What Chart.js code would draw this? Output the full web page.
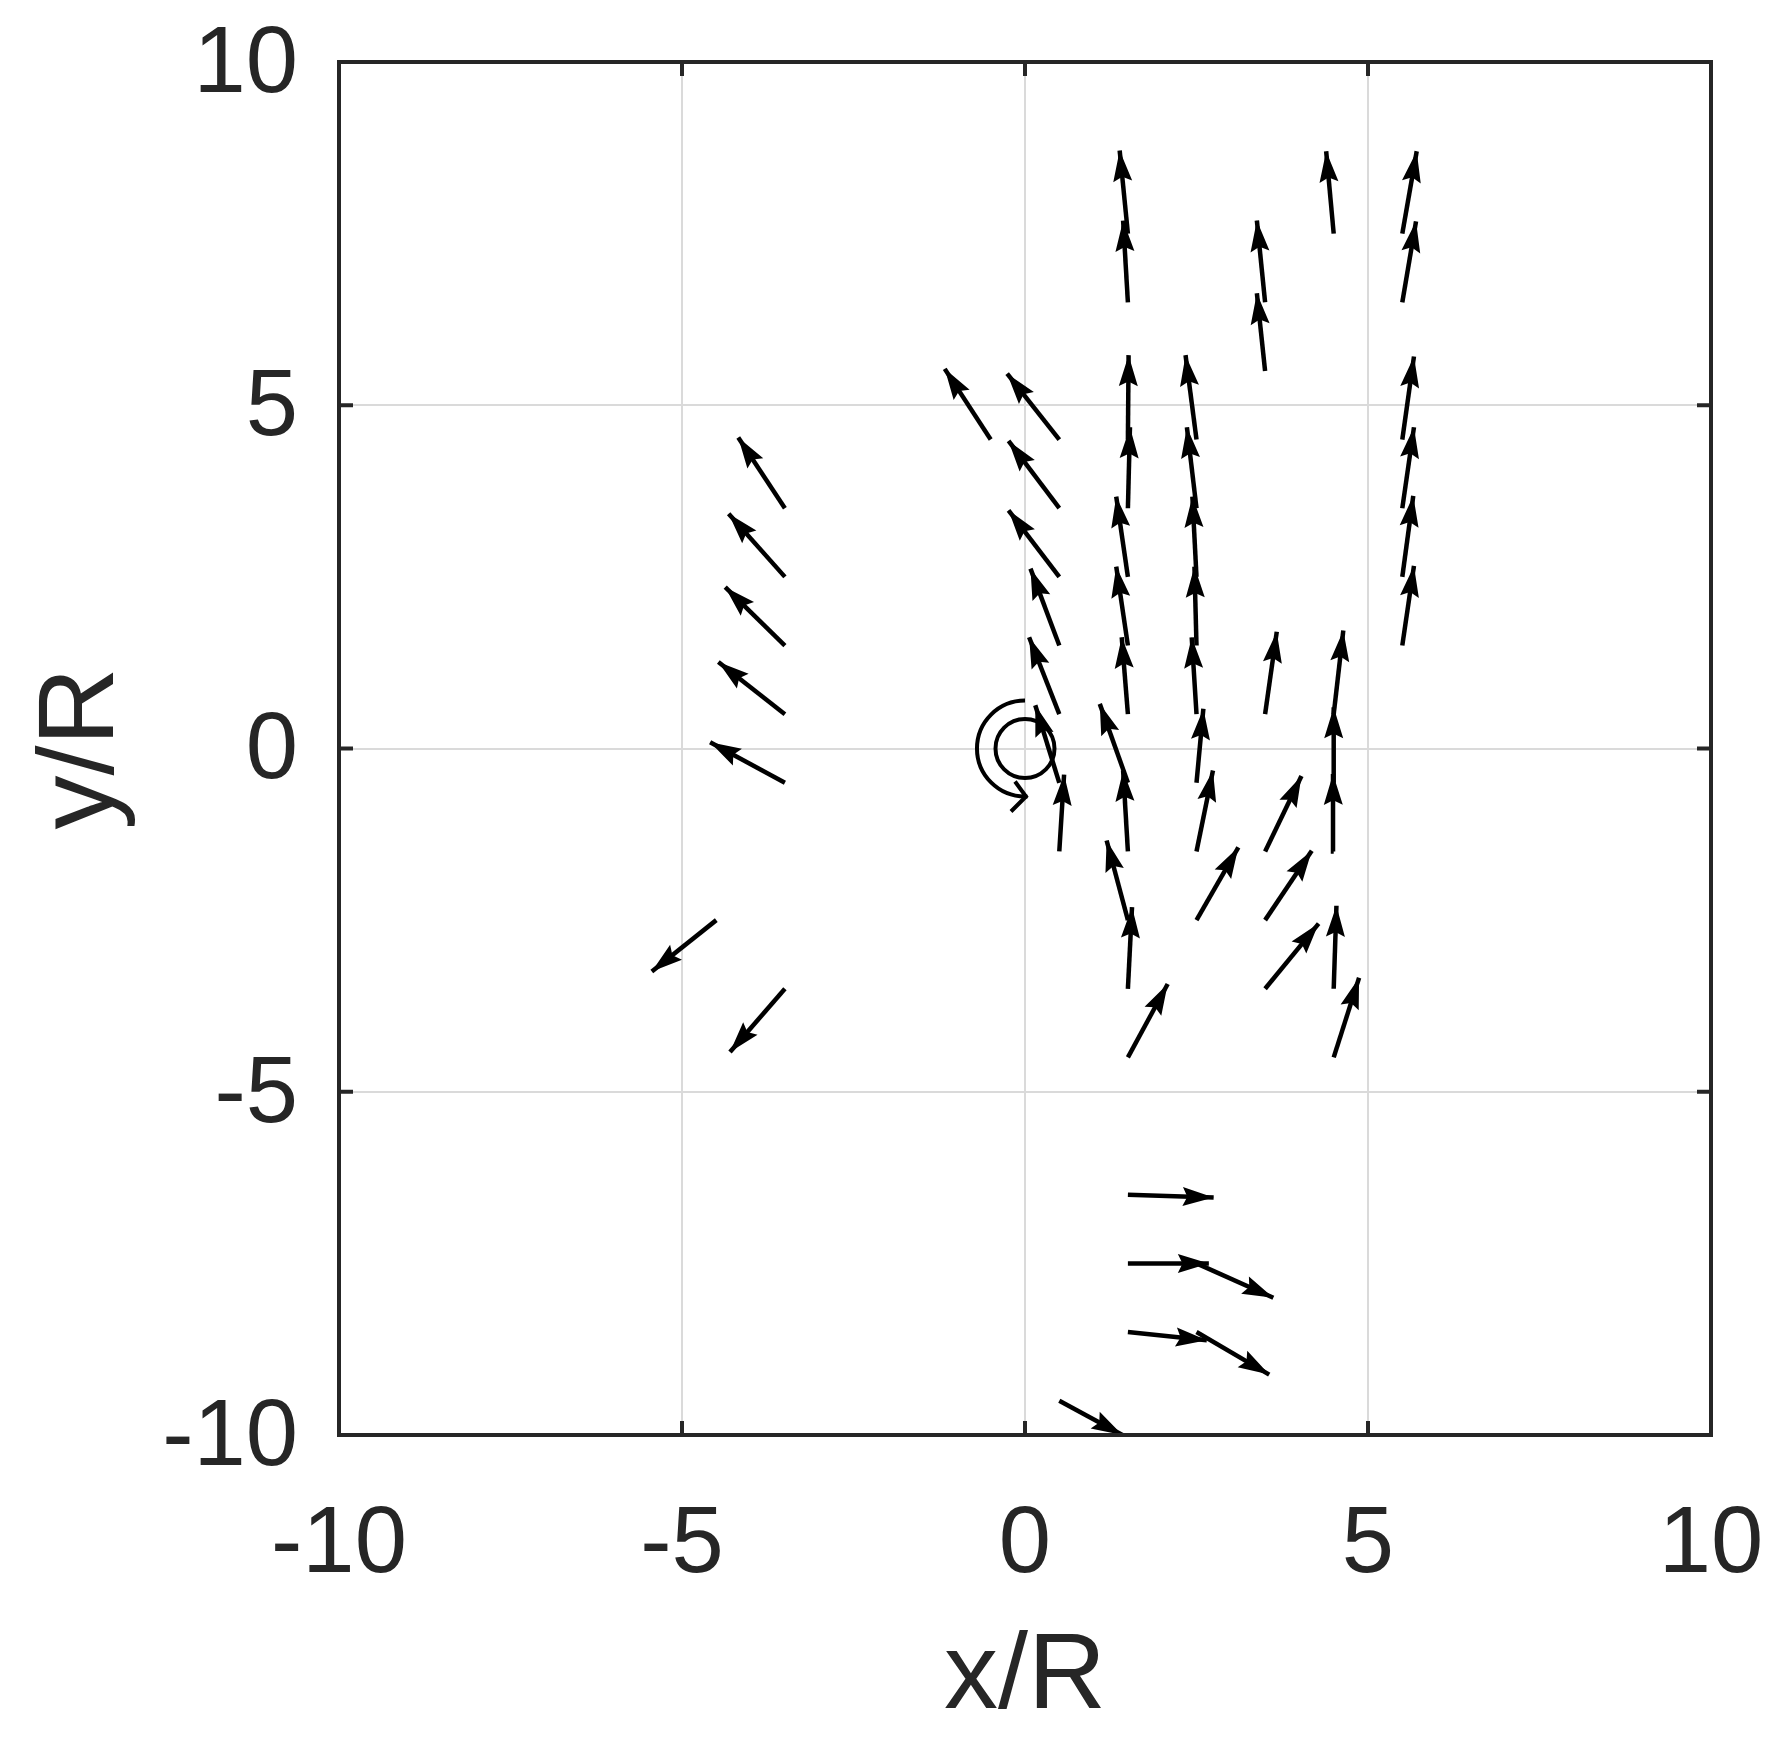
<!DOCTYPE html>
<html>
<head>
<meta charset="utf-8">
<script src="https://cdn.jsdelivr.net/npm/chart.js@4.4.0/dist/chart.umd.min.js"></script>
<style>
  html, body { margin: 0; padding: 0; background: #fff; }
  #wrap { width: 1783px; height: 1743px; }
</style>
</head>
<body>
<div id="wrap"><canvas id="quiverChart"></canvas></div>
<script>
// arrow tails (x/R, y/R) and components
const quiverX = [-3.5, -3.5, -3.5, -3.5, -3.5, -4.5, -3.5,
  -0.5, 0.5, 0.5, 0.5, 0.5, 0.5, 0.5, 0.5, 0.5,
  1.5, 1.5, 1.5, 1.5, 1.5, 1.5, 1.5, 1.5, 1.5, 1.5, 1.5, 1.5, 1.5, 1.5, 1.5,
  2.5, 2.5, 2.5, 2.5, 2.5, 2.5, 2.5, 2.5, 2.5, 2.5,
  3.5, 3.5, 3.5, 3.5, 3.5, 3.5,
  4.5, 4.5, 4.5, 4.5, 4.5, 4.5,
  5.5, 5.5, 5.5, 5.5, 5.5, 5.5];
const quiverY = [3.5, 2.5, 1.5, 0.5, -0.5, -2.5, -3.5,
  4.5, 4.5, 3.5, 2.5, 1.5, 0.5, -0.5, -1.5, -9.5,
  7.5, 6.5, 4.5, 3.5, 2.5, 1.5, 0.5, -0.5, -1.5, -2.5, -3.5, -4.5, -6.5, -7.5, -8.5,
  4.5, 3.5, 2.5, 1.5, 0.5, -0.5, -1.5, -2.5, -7.5, -8.5,
  6.5, 5.5, 0.5, -1.5, -2.5, -3.5,
  7.5, 0.5, -0.5, -1.5, -3.5, -4.5,
  7.5, 6.5, 4.5, 3.5, 2.5, 1.5];
const quiverU = [-0.68, -0.82, -0.87, -0.97, -1.09, -0.94, -0.80,
  -0.67, -0.76, -0.74, -0.74, -0.42, -0.44, -0.35, 0.07, 0.92,
  -0.12, -0.07, 0.01, 0.03, -0.17, -0.17, -0.09, -0.41, -0.07, -0.31, 0.06, 0.58, 1.25, 1.18, 1.15,
  -0.16, -0.14, -0.06, -0.03, -0.07, 0.10, 0.24, 0.61, 1.12, 1.06,
  -0.12, -0.12, 0.17, 0.53, 0.68, 0.78,
  -0.11, 0.14, 0.00, -0.01, 0.04, 0.37,
  0.21, 0.20, 0.17, 0.17, 0.16, 0.17];
const quiverV = [1.03, 0.92, 0.85, 0.76, 0.59, -0.75, -0.92,
  1.03, 0.96, 0.98, 0.97, 1.12, 1.12, 1.13, 1.12, -0.50,
  1.21, 1.19, 1.23, 1.18, 1.17, 1.15, 1.12, 1.15, 1.18, 1.16, 1.19, 1.07, -0.04, 0.00, -0.12,
  1.23, 1.18, 1.17, 1.15, 1.12, 1.08, 1.18, 1.06, -0.50, -0.62,
  1.19, 1.13, 1.20, 1.10, 1.01, 0.95,
  1.20, 1.22, 1.10, 1.13, 1.21, 1.16,
  1.20, 1.18, 1.21, 1.18, 1.18, 1.16];
const axisMin = -10, axisMax = 10, tickStep = 5;

const FONT = '"Liberation Sans", Arial, Helvetica, sans-serif';
const TEXT = '#262626';

// one two-point line per arrow, tail -> head
const arrowSets = quiverX.map((x, i) => ({
  data: [{ x: x, y: quiverY[i] }, { x: x + quiverU[i], y: quiverY[i] + quiverV[i] }],
  borderColor: '#000',
  borderWidth: 4.5,
  pointRadius: 0,
  showLine: true,
  fill: false
}));

const quiverDecor = {
  id: 'quiverDecor',
  afterDatasetsDraw(chart) {
    const { ctx, chartArea: a, scales } = chart;
    ctx.save();
    ctx.beginPath();
    ctx.rect(a.left, a.top, a.right - a.left, a.bottom - a.top);
    ctx.clip();

    // arrow heads
    ctx.fillStyle = '#000';
    chart.data.datasets.forEach((ds, i) => {
      const pts = chart.getDatasetMeta(i).data;
      if (pts.length < 2) return;
      const t = pts[0], h = pts[1];
      const ang = Math.atan2(h.y - t.y, h.x - t.x);
      const len = 31, half = 9.5;
      const bx = h.x - len * Math.cos(ang), by = h.y - len * Math.sin(ang);
      ctx.beginPath();
      ctx.moveTo(h.x, h.y);
      ctx.lineTo(bx + half * Math.sin(ang), by - half * Math.cos(ang));
      ctx.lineTo(h.x - 0.85 * len * Math.cos(ang), h.y - 0.85 * len * Math.sin(ang));
      ctx.lineTo(bx - half * Math.sin(ang), by + half * Math.cos(ang));
      ctx.closePath();
      ctx.fill();
    });

    // rotating cylinder marker at the origin
    const cx = scales.x.getPixelForValue(0);
    const cy = scales.y.getPixelForValue(0);
    const rIn = Math.abs(scales.x.getPixelForValue(0.43) - cx);
    const rOut = Math.abs(scales.x.getPixelForValue(0.7) - cx);
    ctx.strokeStyle = '#000';
    ctx.lineWidth = 4;
    ctx.beginPath();
    ctx.arc(cx, cy, rIn, 0, Math.PI * 2);
    ctx.stroke();
    ctx.beginPath();
    ctx.arc(cx, cy, rOut, -Math.PI / 2, Math.PI / 2 - 0.05, true);
    ctx.stroke();
    const tx = cx + 1, ty = cy + rOut;
    ctx.beginPath();
    ctx.moveTo(tx - 11, ty - 15);
    ctx.lineTo(tx, ty);
    ctx.lineTo(tx - 15, ty + 15);
    ctx.stroke();
    ctx.restore();
  },
  afterDraw(chart) {
    const { ctx, chartArea: a, scales } = chart;
    ctx.save();
    ctx.strokeStyle = TEXT;
    ctx.lineWidth = 4;
    // inward tick marks on all four sides
    const tl = 14;
    ctx.beginPath();
    scales.x.ticks.forEach(t => {
      const px = scales.x.getPixelForValue(t.value);
      ctx.moveTo(px, a.bottom); ctx.lineTo(px, a.bottom - tl);
      ctx.moveTo(px, a.top); ctx.lineTo(px, a.top + tl);
    });
    scales.y.ticks.forEach(t => {
      const py = scales.y.getPixelForValue(t.value);
      ctx.moveTo(a.left, py); ctx.lineTo(a.left + tl, py);
      ctx.moveTo(a.right, py); ctx.lineTo(a.right - tl, py);
    });
    ctx.stroke();
    // axes box
    ctx.strokeRect(a.left, a.top, a.right - a.left, a.bottom - a.top);
    ctx.restore();
  }
};

new Chart(document.getElementById('quiverChart'), {
  type: 'scatter',
  data: { datasets: arrowSets },
  options: {
    responsive: true,
    maintainAspectRatio: false,
    animation: false,
    layout: { padding: { left: 0, top: 62, right: 72, bottom: 0 } },
    plugins: {
      legend: { display: false },
      tooltip: { enabled: false }
    },
    scales: {
      x: {
        type: 'linear',
        min: axisMin,
        max: axisMax,
        ticks: {
          stepSize: tickStep,
          padding: 55,
          maxRotation: 0,
          color: TEXT,
          font: { family: FONT, size: 94 }
        },
        grid: { color: '#dadada', lineWidth: 2, drawTicks: false },
        border: { display: false },
        title: {
          display: true,
          text: 'x/R',
          color: TEXT,
          font: { family: FONT, size: 108 },
          padding: { top: 0, bottom: 0 }
        },
        afterFit(scale) {
          scale.height = 308;
          scale.paddingLeft = 0;
          scale.paddingRight = 0;
        }
      },
      y: {
        type: 'linear',
        min: axisMin,
        max: axisMax,
        ticks: {
          stepSize: tickStep,
          padding: 41,
          labelOffset: 4,
          color: TEXT,
          font: { family: FONT, size: 94 }
        },
        grid: { color: '#dadada', lineWidth: 2, drawTicks: false },
        border: { display: false },
        title: {
          display: true,
          text: 'y/R',
          color: TEXT,
          font: { family: FONT, size: 108 },
          padding: { top: 18, bottom: 0 }
        },
        afterFit(scale) {
          scale.width = 339;
          scale.paddingTop = 0;
          scale.paddingBottom = 0;
        }
      }
    }
  },
  plugins: [quiverDecor]
});
</script>
</body>
</html>
